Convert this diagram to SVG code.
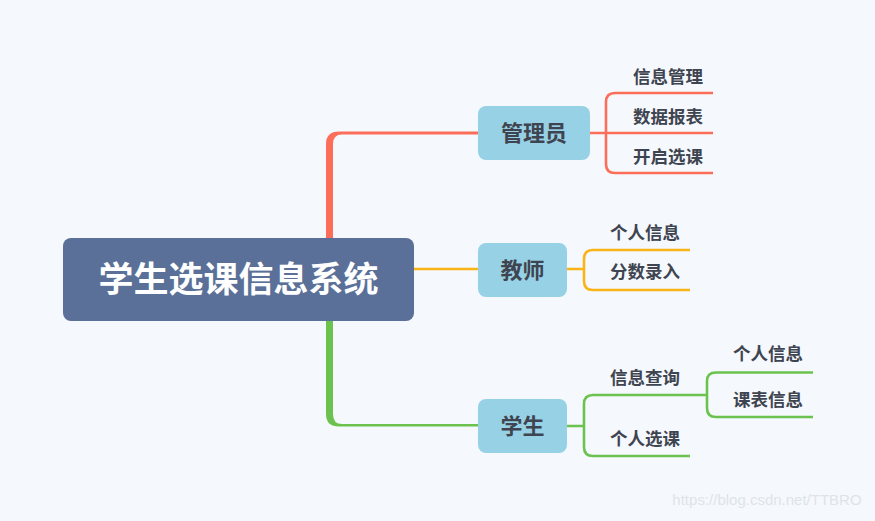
<svg xmlns="http://www.w3.org/2000/svg" width="875" height="521" viewBox="0 0 875 521">
<style>
.sub{font-family:"Noto Sans CJK SC","Noto Sans",sans-serif;font-weight:bold;font-size:17.5px;fill:#3f4550;text-anchor:middle}
.mid{font-family:"Noto Sans CJK SC","Noto Sans",sans-serif;font-weight:bold;font-size:22px;fill:#3f4550;text-anchor:middle}
.box{fill:#97d1e6}
.ln{fill:none;stroke-width:2.6;stroke-linecap:butt}
.r{stroke:#fd6e5a}
.o{stroke:#fbb31a}
.g{stroke:#6cc24e}
</style>
<rect width="875" height="521" fill="#f5f9fd"/>
<g id="connectors">
<path d="M326,238 L326,144 Q326,131.5 339,131.5 L478,131.5 L478,134.5 L342,134.5 Q333,134.5 333,144 L333,238 Z" fill="#fd6e5a"/>
<line class="ln o" x1="414" y1="269" x2="478" y2="269"/>
<path d="M326,321 L326,414 Q326,426.5 339,426.5 L478,426.5 L478,424 L342,424 Q333,424 333,414 L333,321 Z" fill="#6cc24e"/>
<path class="ln r" d="M590,133 L606,133 M713,93 L615,93 Q606,93 606,102 L606,164 Q606,173 615,173 L713,173 M606,133 L713,133"/>
<path class="ln o" d="M567,269 L584,269 M690,250 L593,250 Q584,250 584,259 L584,281 Q584,290 593,290 L690,290"/>
<path class="ln g" d="M567,426 L584,426 M707,395 L593,395 Q584,395 584,404 L584,447 Q584,456 593,456 L690,456"/>
<path class="ln g" d="M813,372.5 L716,372.5 Q707,372.5 707,381 L707,408 Q707,417 716,417 L813,417"/>
</g>
<g id="root">
<rect x="63" y="238" width="351" height="83" rx="8" fill="#5a7098"/>
<text x="238.5" y="292" font-family="Noto Sans CJK SC,sans-serif" font-weight="bold" font-size="35" fill="#ffffff" text-anchor="middle">学生选课信息系统</text>
</g>
<g id="admin">
<rect class="box" x="478" y="106" width="112" height="54" rx="8"/>
<text class="mid" x="534" y="141">管理员</text>
</g>
<g id="teacher">
<rect class="box" x="478" y="243" width="89" height="54" rx="8"/>
<text class="mid" x="522.5" y="278">教师</text>
</g>
<g id="student">
<rect class="box" x="478" y="399" width="89" height="54" rx="8"/>
<text class="mid" x="522.5" y="434">学生</text>
</g>
<g id="admin-info"><text class="sub" x="668" y="83">信息管理</text></g>
<g id="admin-data"><text class="sub" x="668" y="123">数据报表</text></g>
<g id="admin-open"><text class="sub" x="668" y="163">开启选课</text></g>
<g id="teacher-info"><text class="sub" x="645" y="239">个人信息</text></g>
<g id="teacher-score"><text class="sub" x="645" y="278">分数录入</text></g>
<g id="student-query"><text class="sub" x="645" y="384">信息查询</text></g>
<g id="student-select"><text class="sub" x="645" y="445">个人选课</text></g>
<g id="query-info"><text class="sub" x="768" y="360">个人信息</text></g>
<g id="query-table"><text class="sub" x="768" y="406">课表信息</text></g>
<text x="767" y="505" font-family="Liberation Sans,sans-serif" font-size="15" fill="#dfe3e9" text-anchor="middle">https://blog.csdn.net/TTBRO</text>
</svg>
